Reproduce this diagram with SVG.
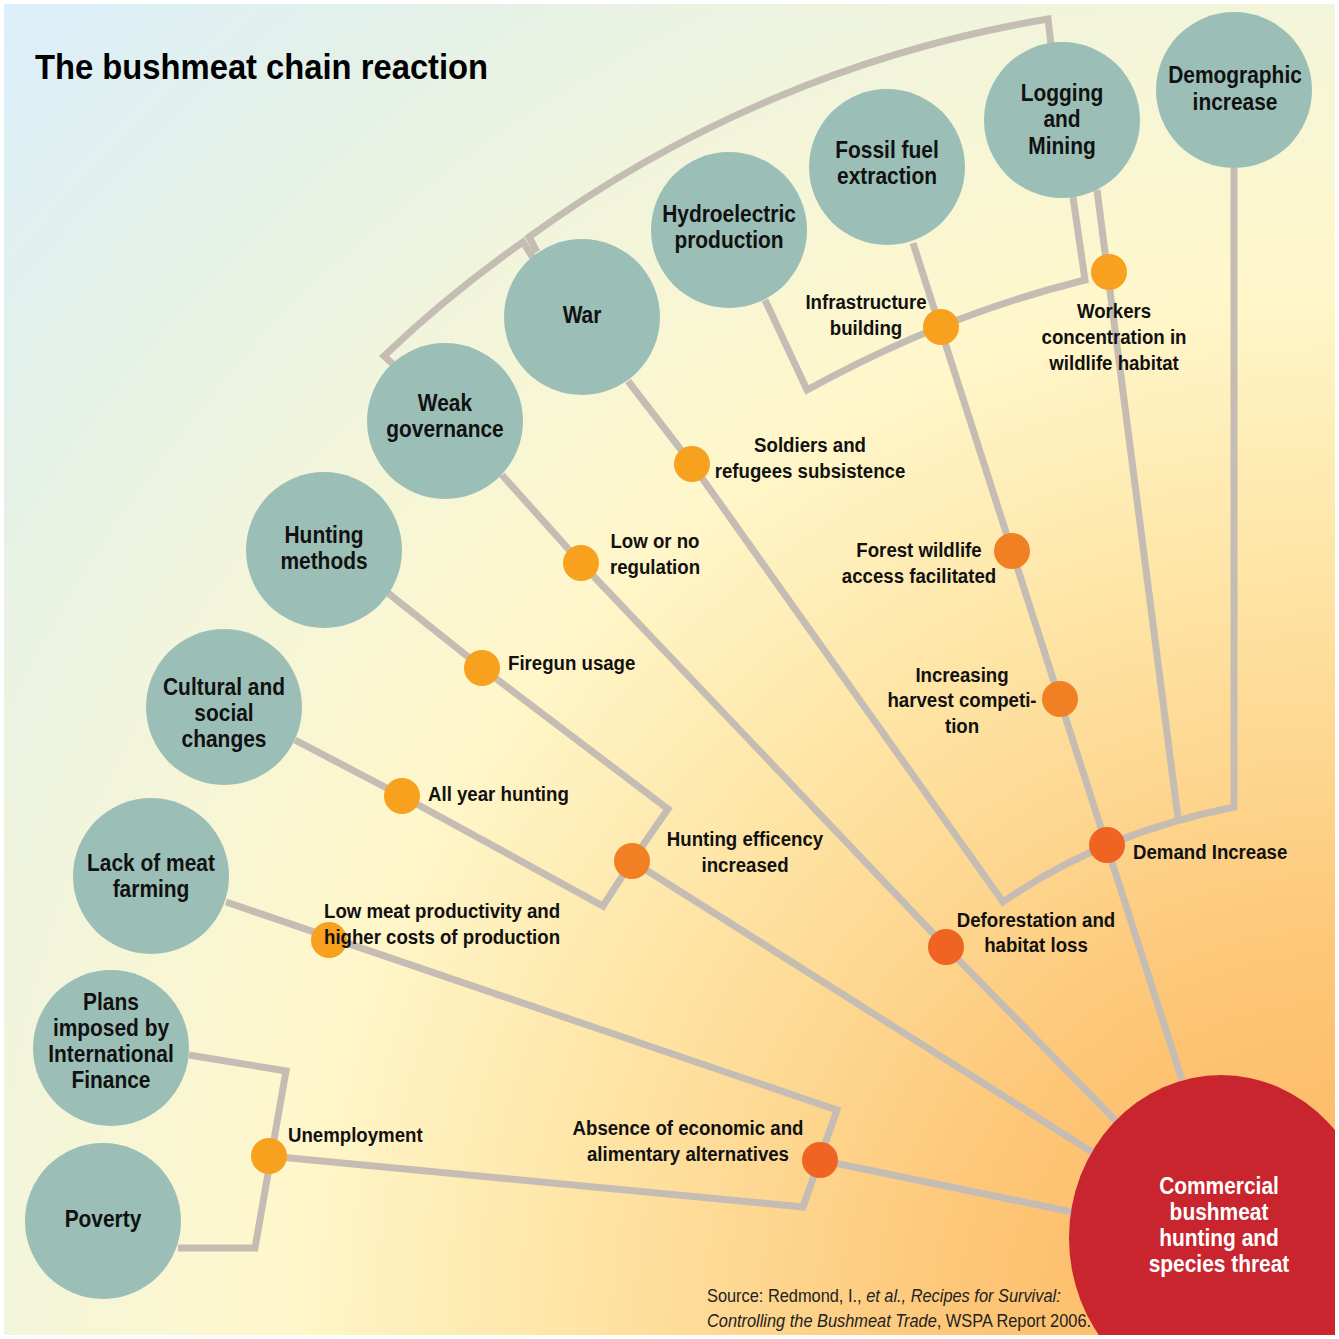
<svg xmlns="http://www.w3.org/2000/svg" width="1339" height="1339" viewBox="0 0 1339 1339">
<defs>
<radialGradient id="bg" gradientUnits="userSpaceOnUse" cx="1339" cy="1339" r="1893">
<stop offset="0" stop-color="#fbb35a"/>
<stop offset="0.2" stop-color="#fdc677"/>
<stop offset="0.4" stop-color="#fee4a4"/>
<stop offset="0.56" stop-color="#fff7cb"/>
<stop offset="0.7" stop-color="#f3f5da"/>
<stop offset="0.85" stop-color="#e4f1e9"/>
<stop offset="1" stop-color="#dbeffb"/>
</radialGradient>
<style>
.ln{fill:none;stroke:#c5bdb4;stroke-width:7;stroke-linejoin:miter;stroke-linecap:butt}
.node{fill:#9bbfb7}
.d1{fill:#f7a11f}
.d2{fill:#f17f23}
.d3{fill:#ef6423}
.nt{font-family:"Liberation Sans",Arial,sans-serif;font-weight:bold;font-size:23px;fill:#111;text-anchor:middle}
.lt{font-family:"Liberation Sans",Arial,sans-serif;font-weight:bold;font-size:20.5px;fill:#111}
.mid{text-anchor:middle}
.wt{fill:#fff}
.ttl{font-family:"Liberation Sans",Arial,sans-serif;font-weight:bold;font-size:36px;fill:#000}
.src{font-family:"Liberation Sans",Arial,sans-serif;font-size:18px;fill:#222}
</style>
</defs>
<rect x="0" y="0" width="1339" height="1339" fill="url(#bg)"/>

<g id="connectors">
<path class="ln" d="M537 252 L529 237 A1222 1222 0 0 1 1048 19 L1051 45"/>
<path class="ln" d="M394 365 L384 356 A1214 1214 0 0 1 523 242 L533 258"/>
<path class="ln" d="M765 300 L807 390 Q943 315 1085 280 L1073 197"/>
<path class="ln" d="M913 243 L1182 1080"/>
<path class="ln" d="M1097 190 L1178 818"/>
<path class="ln" d="M1234 168 L1234 807 Q1100 834 1003 902 L692 464 L628 381"/>
<path class="ln" d="M502 475 L581 563 L946 947 L1117 1122"/>
<path class="ln" d="M388 593 L482 668 L668 809 L632 861 L603 906 L402 796 L295 740"/>
<path class="ln" d="M632 861 L1092 1152"/>
<path class="ln" d="M226 902 L837 1110 L803 1207 L269 1156"/>
<path class="ln" d="M820 1160 L1072 1212"/>
<path class="ln" d="M189 1055 L286 1071 L255 1248 L178 1248"/>
</g>

<g id="node-demographic"><circle class="node" cx="1234" cy="90" r="78"/>
<text class="nt" transform="translate(1235 0) scale(.91 1)"><tspan x="0" y="83">Demographic</tspan><tspan x="0" y="110">increase</tspan></text></g>
<g id="node-logging"><circle class="node" cx="1062" cy="120" r="78"/>
<text class="nt" transform="translate(1062 0) scale(.91 1)"><tspan x="0" y="101">Logging</tspan><tspan x="0" y="127.5">and</tspan><tspan x="0" y="154">Mining</tspan></text></g>
<g id="node-fossil"><circle class="node" cx="887" cy="167" r="78"/>
<text class="nt" transform="translate(887 0) scale(.91 1)"><tspan x="0" y="158">Fossil fuel</tspan><tspan x="0" y="184">extraction</tspan></text></g>
<g id="node-hydro"><circle class="node" cx="729" cy="230" r="78"/>
<text class="nt" transform="translate(729 0) scale(.91 1)"><tspan x="0" y="222">Hydroelectric</tspan><tspan x="0" y="248">production</tspan></text></g>
<g id="node-war"><circle class="node" cx="582" cy="317" r="78"/>
<text class="nt" transform="translate(582 0) scale(.91 1)"><tspan x="0" y="323">War</tspan></text></g>
<g id="node-weak"><circle class="node" cx="445" cy="421" r="78"/>
<text class="nt" transform="translate(445 0) scale(.91 1)"><tspan x="0" y="411">Weak</tspan><tspan x="0" y="437">governance</tspan></text></g>
<g id="node-hunting"><circle class="node" cx="324" cy="550" r="78"/>
<text class="nt" transform="translate(324 0) scale(.91 1)"><tspan x="0" y="543">Hunting</tspan><tspan x="0" y="569">methods</tspan></text></g>
<g id="node-cultural"><circle class="node" cx="224" cy="707" r="78"/>
<text class="nt" transform="translate(224 0) scale(.91 1)"><tspan x="0" y="695">Cultural and</tspan><tspan x="0" y="721">social</tspan><tspan x="0" y="747">changes</tspan></text></g>
<g id="node-lack"><circle class="node" cx="151" cy="876" r="78"/>
<text class="nt" transform="translate(151 0) scale(.91 1)"><tspan x="0" y="871">Lack of meat</tspan><tspan x="0" y="897">farming</tspan></text></g>
<g id="node-plans"><circle class="node" cx="111" cy="1048" r="78"/>
<text class="nt" transform="translate(111 0) scale(.91 1)"><tspan x="0" y="1010">Plans</tspan><tspan x="0" y="1036">imposed by</tspan><tspan x="0" y="1062">International</tspan><tspan x="0" y="1088">Finance</tspan></text></g>
<g id="node-poverty"><circle class="node" cx="103" cy="1221" r="78"/>
<text class="nt" transform="translate(103 0) scale(.91 1)"><tspan x="0" y="1227">Poverty</tspan></text></g>
<g id="node-commercial"><ellipse cx="1221" cy="1238" rx="152" ry="163" fill="#c9252e"/>
<text class="nt wt" transform="translate(1219 0) scale(.91 1)"><tspan x="0" y="1194">Commercial</tspan><tspan x="0" y="1220">bushmeat</tspan><tspan x="0" y="1246">hunting and</tspan><tspan x="0" y="1272">species threat</tspan></text></g>

<g id="node-infrastructure"><circle class="d1" cx="941" cy="327" r="18"/>
<text class="lt mid" transform="translate(866 0) scale(.91 1)"><tspan x="0" y="309">Infrastructure</tspan><tspan x="0" y="335">building</tspan></text></g>
<g id="node-workers"><circle class="d1" cx="1109" cy="272" r="18"/>
<text class="lt mid" transform="translate(1114 0) scale(.91 1)"><tspan x="0" y="318">Workers</tspan><tspan x="0" y="344">concentration in</tspan><tspan x="0" y="370">wildlife habitat</tspan></text></g>
<g id="node-soldiers"><circle class="d1" cx="692" cy="464" r="18"/>
<text class="lt mid" transform="translate(810 0) scale(.91 1)"><tspan x="0" y="452">Soldiers and</tspan><tspan x="0" y="478">refugees subsistence</tspan></text></g>
<g id="node-regulation"><circle class="d1" cx="581" cy="563" r="18"/>
<text class="lt mid" transform="translate(655 0) scale(.91 1)"><tspan x="0" y="548">Low or no</tspan><tspan x="0" y="574">regulation</tspan></text></g>
<g id="node-forest"><circle class="d2" cx="1012" cy="551" r="18"/>
<text class="lt mid" transform="translate(919 0) scale(.91 1)"><tspan x="0" y="557">Forest wildlife</tspan><tspan x="0" y="583">access facilitated</tspan></text></g>
<g id="node-harvest"><circle class="d2" cx="1060" cy="699" r="18"/>
<text class="lt mid" transform="translate(962 0) scale(.91 1)"><tspan x="0" y="682">Increasing</tspan><tspan x="0" y="707">harvest competi-</tspan><tspan x="0" y="733">tion</tspan></text></g>
<g id="node-firegun"><circle class="d1" cx="482" cy="668" r="18"/>
<text class="lt" transform="translate(508 0) scale(.91 1)"><tspan x="0" y="670">Firegun usage</tspan></text></g>
<g id="node-allyear"><circle class="d1" cx="402" cy="796" r="18"/>
<text class="lt" transform="translate(428 0) scale(.91 1)"><tspan x="0" y="801">All year hunting</tspan></text></g>
<g id="node-efficiency"><circle class="d2" cx="632" cy="861" r="18"/>
<text class="lt mid" transform="translate(745 0) scale(.91 1)"><tspan x="0" y="846">Hunting efficency</tspan><tspan x="0" y="872">increased</tspan></text></g>
<g id="node-demand"><circle class="d3" cx="1107" cy="845" r="18"/>
<text class="lt" transform="translate(1133 0) scale(.91 1)"><tspan x="0" y="859">Demand Increase</tspan></text></g>
<g id="node-deforestation"><circle class="d3" cx="946" cy="947" r="18"/>
<text class="lt mid" transform="translate(1036 0) scale(.91 1)"><tspan x="0" y="927">Deforestation and</tspan><tspan x="0" y="952">habitat loss</tspan></text></g>
<g id="node-lowmeat"><circle class="d1" cx="329" cy="940" r="18"/>
<text class="lt" transform="translate(324 0) scale(.91 1)"><tspan x="0" y="918">Low meat productivity and</tspan><tspan x="0" y="944">higher costs of production</tspan></text></g>
<g id="node-unemployment"><circle class="d1" cx="269" cy="1156" r="18"/>
<text class="lt" transform="translate(288 0) scale(.91 1)"><tspan x="0" y="1142">Unemployment</tspan></text></g>
<g id="node-absence"><circle class="d3" cx="820" cy="1160" r="18"/>
<text class="lt mid" transform="translate(688 0) scale(.91 1)"><tspan x="0" y="1135">Absence of economic and</tspan><tspan x="0" y="1161">alimentary alternatives</tspan></text></g>

<text class="ttl" transform="translate(35 0) scale(.91 1)" x="0" y="79">The bushmeat chain reaction</text>
<text class="src" transform="translate(707 0) scale(.91 1)" x="0" y="1302">Source: Redmond, I., <tspan font-style="italic">et al., Recipes for Survival:</tspan></text>
<text class="src" transform="translate(707 0) scale(.91 1)" x="0" y="1327"><tspan font-style="italic">Controlling the Bushmeat Trade</tspan>, WSPA Report 2006.</text>

<rect x="0" y="0" width="1339" height="1339" fill="none" stroke="#fff" stroke-width="8"/>
</svg>
